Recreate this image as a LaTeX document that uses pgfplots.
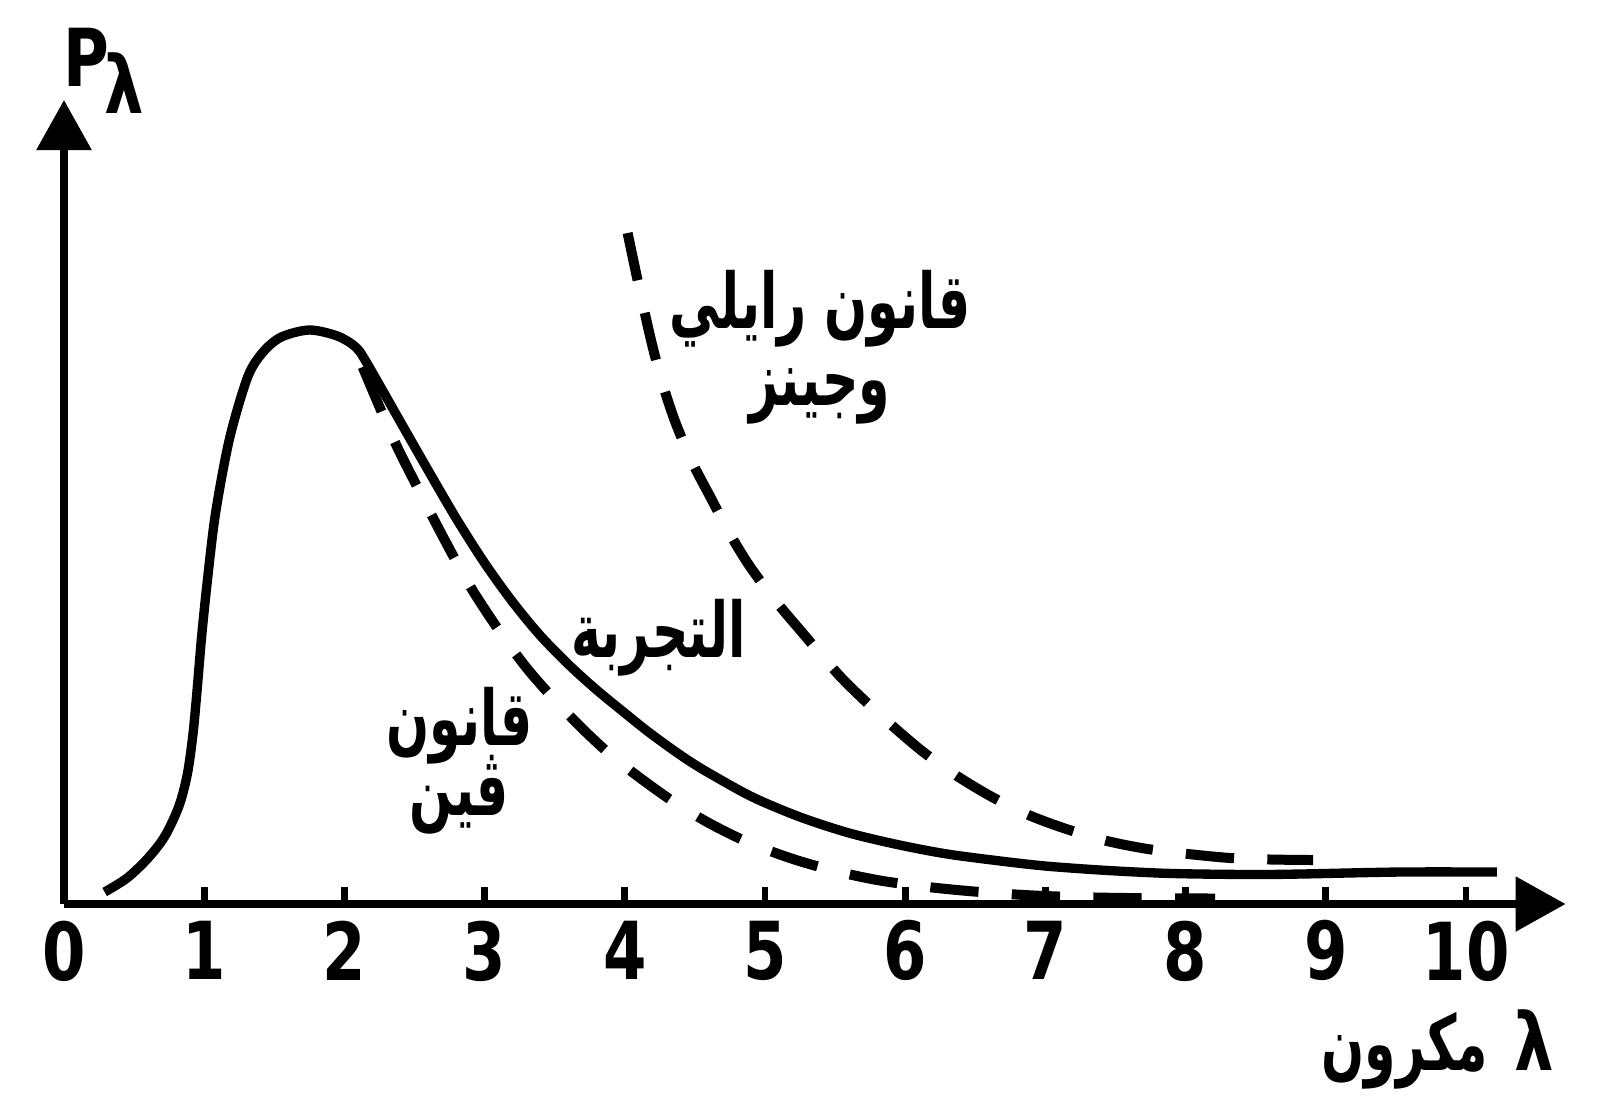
\documentclass[border=0pt]{standalone}
\usepackage{fontspec}
\usepackage{pgfplots}
\pgfplotsset{compat=1.18}
\usetikzlibrary{arrows.meta}
\TeXXeTstate=1
\setmainfont{DejaVu Sans}
\newfontfamily\tickfont[FakeStretch=0.78]{DejaVu Sans}
\newfontfamily\arabicfont[Script=Arabic,FakeStretch=0.66]{DejaVu Sans}
\newcommand{\tf}{\tickfont\bfseries\fontsize{24}{28}\selectfont}
\newcommand{\af}{\arabicfont\bfseries\fontsize{23}{27}\selectfont}

\begin{document}
\begin{tikzpicture}
\begin{axis}[
 x=42.06pt, y=30pt,
 xmin=0, xmax=10.71, ymin=0, ymax=8.04,
 axis x line=bottom, axis y line=left,
 axis line style={line width=2.4pt},
 x axis line style={line width=2.4pt, -{Triangle[length=15pt,width=16pt]}},
 y axis line style={line width=2.4pt, -{Triangle[length=15pt,width=16pt]}},
 xtick={0,...,10}, ytick=\empty,
 tick align=inside, major tick length=5pt,
 tick style={line width=2pt, black},
 xticklabel style={font=\tf, inner sep=0pt, anchor=north, yshift=-4.8pt},
 /pgf/number format/assume math mode=true,
 clip=false,
]
% experiment (solid)
\addplot[black, line width=2.8pt, smooth] coordinates {
(0.29,0.12) (0.45,0.26) (0.60,0.46) (0.72,0.68) (0.82,0.98) (0.88,1.30)
(0.92,1.70) (0.95,2.15) (0.98,2.65) (1.02,3.20) (1.08,3.90) (1.18,4.65)
(1.31,5.27) (1.42,5.52) (1.55,5.67) (1.75,5.74) (1.95,5.68) (2.08,5.57)
(2.16,5.41) (2.40,4.82) (2.60,4.33) (2.80,3.85) (3.00,3.41) (3.20,3.02)
(3.40,2.68) (3.61,2.38) (3.80,2.14) (4.00,1.91) (4.16,1.73) (4.32,1.565)
(4.46,1.43) (4.60,1.31) (4.91,1.07) (5.25,0.87) (5.60,0.71) (5.96,0.59)
(6.30,0.50) (6.68,0.43) (7.00,0.38) (7.39,0.34) (7.80,0.31) (8.10,0.30)
(8.50,0.295) (8.82,0.30) (9.53,0.32) (10.22,0.32)
};
% Wien (dashed)
\addplot[black, line width=3pt, smooth, dash pattern=on 14.5pt off 10pt] coordinates {
(2.13,5.37) (2.35,4.65) (2.52,4.17) (2.70,3.68) (2.90,3.17) (3.11,2.72)
(3.30,2.36) (3.50,2.04) (3.70,1.75) (3.90,1.49) (4.10,1.27) (4.34,1.03)
(4.60,0.81) (4.89,0.61) (5.20,0.45) (5.50,0.33) (5.80,0.24) (6.10,0.18)
(6.45,0.13) (6.85,0.09) (7.21,0.07) (7.60,0.06) (8.21,0.055)
};
% Rayleigh-Jeans (dashed)
\addplot[black, line width=3pt, smooth, dash pattern=on 14.5pt off 10pt] coordinates {
(4.02,6.71) (4.10,6.18) (4.19,5.62) (4.27,5.20) (4.36,4.82) (4.48,4.42)
(4.61,4.07) (4.75,3.70) (4.89,3.38) (5.07,3.04) (5.25,2.74) (5.54,2.27)
(5.83,1.88) (6.12,1.53) (6.37,1.28) (6.62,1.07) (6.88,0.89) (7.15,0.75)
(7.44,0.63) (7.73,0.55) (8.02,0.50) (8.32,0.46) (8.61,0.445) (8.91,0.44)
};
% labels
\node[anchor=base west, inner sep=0pt, font=\tf] at (axis cs:-0.007,8.18) {P\kern-1.5pt\raisebox{-8.1pt}{λ}};
\node[anchor=base east, inner sep=0pt] at (axis cs:10.635,-1.66) {{\af\beginR مكرون\endR}\hspace{8pt}{\tf λ}};
\node[anchor=base, inner sep=0pt, align=center, font=\af] at (axis cs:5.39,4.99) {\beginR قانون رايلي\endR\\[-4pt]\beginR وجينز\endR};
\node[anchor=base, inner sep=0pt] at (axis cs:4.24,2.47) {\af\beginR التجربة\endR};
\node[anchor=base, inner sep=0pt, align=center, font=\af] at (axis cs:2.82,0.89) {\beginR قانون\endR\\[-6pt]\beginR ڤين\endR};
% bounding box matching reference proportions
\path (axis cs:-0.4565,-2.09) rectangle (axis cs:10.97,9.04);
\end{axis}
\end{tikzpicture}
\end{document}
